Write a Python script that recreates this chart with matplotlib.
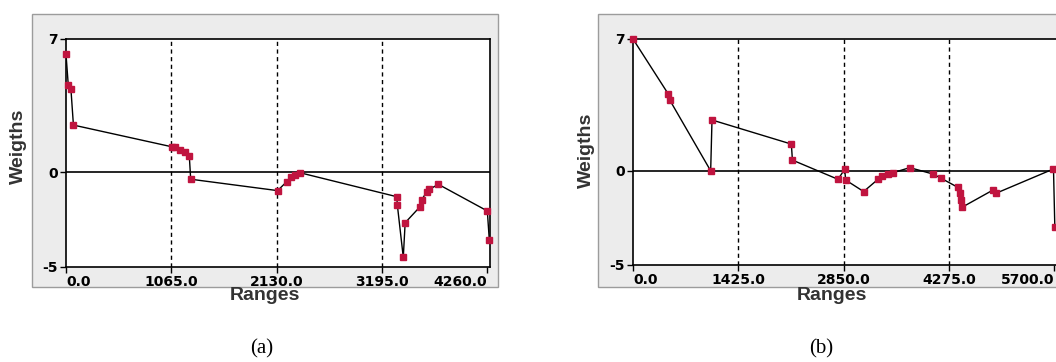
import numpy as np
import matplotlib
matplotlib.use("Agg")
from matplotlib import pyplot as plt
from matplotlib.patches import Rectangle

# panel (a) values
a_ranges = [0, 23, 50, 75, 1068, 1100, 1150, 1200, 1247, 1261, 2140, 2232, 2273, 2316, 2367,
            3345, 3351, 3411, 3430, 3580, 3597, 3648, 3675, 3766, 4261, 4281]
a_weights = [6.2, 4.58, 4.35, 2.47, 1.33, 1.3, 1.16, 1.07, 0.84, -0.38, -0.98, -0.51, -0.28, -0.16, -0.04,
             -1.3, -1.74, -4.49, -2.67, -1.83, -1.47, -1.04, -0.91, -0.65, -2.05, -3.58]
a_ticks = [0, 1065, 2130, 3195, 4260]

# panel (b)
b_ranges = [0, 474, 497, 1051, 1069, 2143, 2157, 2774, 2864, 2878, 3121, 3315, 3374, 3450, 3518,
            3745, 4059, 4172, 4397, 4420, 4443, 4450, 4871, 4907, 5690, 5708]
b_weights = [7.0, 4.1, 3.76, 0.0, 2.7, 1.42, 0.57, -0.45, 0.08, -0.49, -1.1, -0.45, -0.28, -0.17, -0.1,
             0.17, -0.17, -0.4, -0.88, -1.2, -1.55, -1.94, -1.02, -1.2, 0.1, -3.0]
b_ticks = [0, 1425, 2850, 4275, 5700]

y_ticks = [7, 0, -5]
marker_color = "#c0143f"

W, H = 1056, 362
fig = plt.figure(figsize=(W / 100, H / 100), dpi=100)


def px_box(x0, y0, x1, y1):
    return [x0 / W, 1 - y1 / H, (x1 - x0) / W, (y1 - y0) / H]


def panel(box, axbox, xs, ys, ticks, xmax, letter, letter_x, lab_x, ylab_x, ylab_y):
    b = px_box(*box)
    fig.add_artist(Rectangle((b[0], b[1]), b[2], b[3], transform=fig.transFigure,
                             facecolor="#ececec", edgecolor="#9c9c9c", lw=1.0, zorder=-5))
    ax = fig.add_axes(px_box(*axbox))
    ax.set_zorder(1)
    ax.set_facecolor("white")
    ax.set_xlim(0, xmax)
    ax.set_ylim(-5, 7)
    for t in ticks[1:-1]:
        ax.axvline(t, color="black", lw=1.0, ls=(0, (3, 2.5)), zorder=1)
    ax.axhline(0, color="black", lw=1.2, zorder=1)
    ax.plot(xs, ys, color="black", lw=1.0, zorder=2)
    ax.plot(xs, ys, ls="none", marker="s", ms=4.5, mfc=marker_color, mec=marker_color,
            zorder=3, clip_on=False)
    ax.set_xticks(ticks)
    ax.set_xticklabels([f"{t:.1f}" for t in ticks], fontsize=10, fontweight="bold",
                       family="DejaVu Sans")
    labs = ax.get_xticklabels()
    labs[0].set_ha("left")
    labs[-1].set_ha("right")
    ax.set_yticks(y_ticks)
    ax.set_yticklabels([str(t) for t in y_ticks], fontsize=10, fontweight="bold",
                       family="DejaVu Sans")
    ax.tick_params(direction="out", length=4, width=1, pad=2, colors="black")
    for s in ax.spines.values():
        s.set_linewidth(1.2)
    fig.text(lab_x / W, 1 - 296 / H, "Ranges", ha="center", va="center", fontsize=14,
             fontweight="bold", family="Liberation Sans", color="#333333", zorder=3)
    fig.text(ylab_x / W, 1 - ylab_y / H, "Weigths", ha="center", va="center", fontsize=14,
             fontweight="bold", family="Liberation Sans", rotation=90, color="#333333", zorder=3)
    fig.text(letter_x / W, 1 - 349 / H, letter, ha="center", va="center", fontsize=15,
             family="Liberation Serif")
    return ax


panel((32, 14, 498, 287), (66, 39, 490, 267), a_ranges, a_weights, a_ticks, 4288,
      "(a)", 262, 265, 18, 146)
panel((598, 14, 1070, 287), (633, 39, 1060, 265), b_ranges, b_weights, b_ticks, 5778,
      "(b)", 821, 832, 586, 150)

fig.savefig("out.png", dpi=100)
